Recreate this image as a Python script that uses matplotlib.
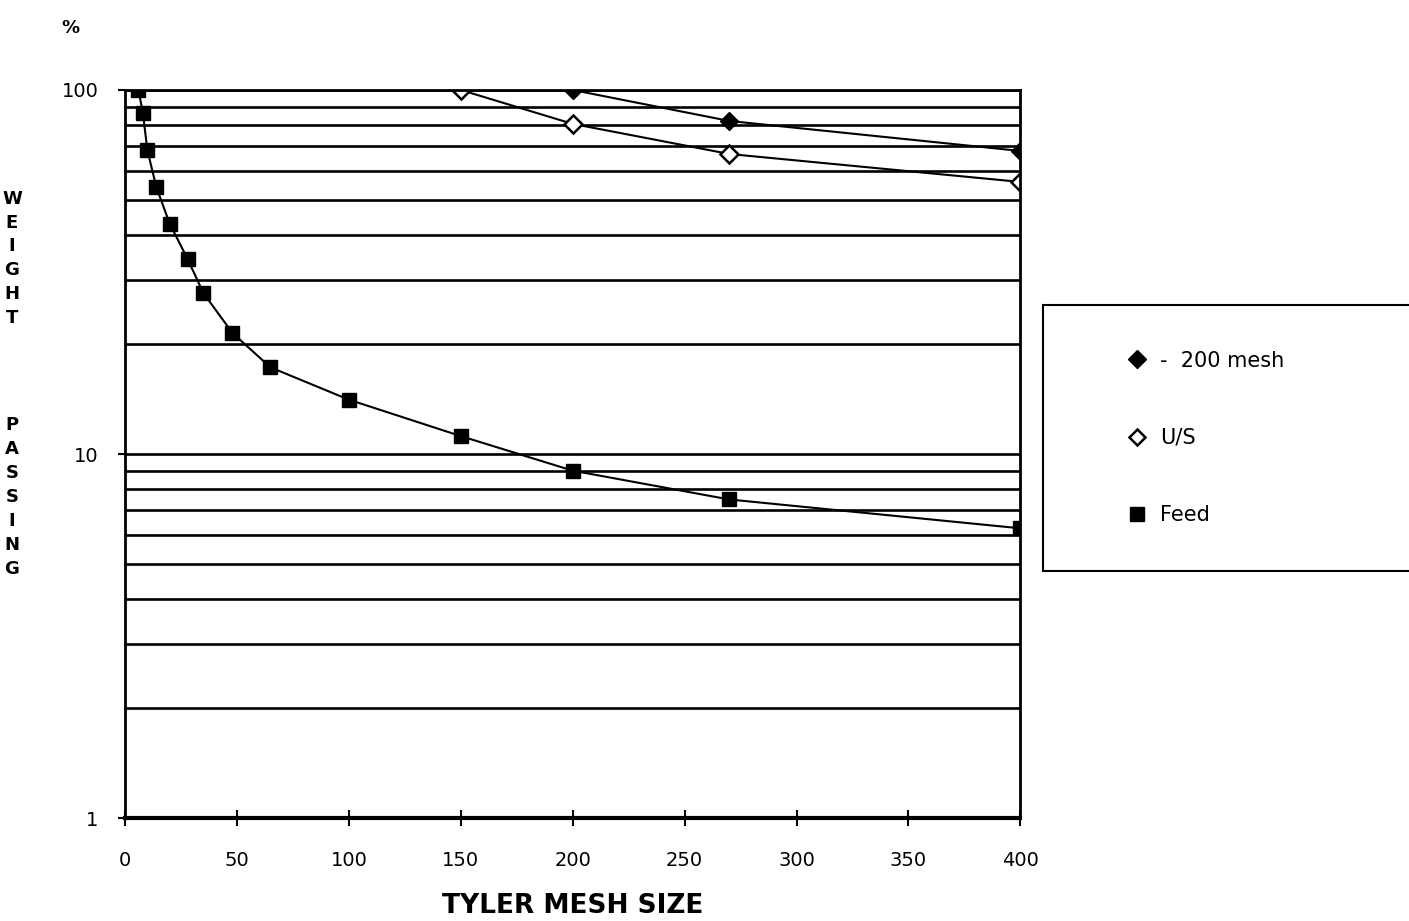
"""sieve analysis: cumulative weight passing vs tyler mesh size"""

import matplotlib
matplotlib.use("Agg")
import matplotlib.pyplot as plt
from matplotlib.lines import Line2D
from matplotlib.ticker import FixedLocator, NullFormatter

# Feed curve
feed_mesh = [6, 8, 10, 14, 20, 28, 35, 48, 65, 100, 150, 200, 270, 400]
feed_pass = [100, 86.5, 68.4, 54.1, 42.9, 34.3, 27.7, 21.5, 17.3, 14.1, 11.2, 9.0, 7.5, 6.25]

# -200 mesh product
minus200_mesh = [200, 270, 400]
minus200_pass = [100, 82.2, 68.0]

# U/S (undersize)
us_mesh = [150, 200, 270, 400]
us_pass = [100, 80.7, 66.7, 55.9]

x_ticks = [0, 50, 100, 150, 200, 250, 300, 350, 400]
y_major = [1, 10, 100]
y_minor = [2, 3, 4, 5, 6, 7, 8, 9, 20, 30, 40, 50, 60, 70, 80, 90]

fig = plt.figure(figsize=(14.09, 9.21), dpi=100)
ax = fig.add_axes([0.0887, 0.1118, 0.6355, 0.7905])

# horizontal rules of the log paper
ax.set_yscale('log')
ax.set_xlim(0, 400)
ax.set_ylim(1, 100)
ax.yaxis.set_major_locator(FixedLocator(y_major))
ax.yaxis.set_minor_locator(FixedLocator(y_minor))
ax.yaxis.set_minor_formatter(NullFormatter())
ax.set_yticklabels([str(v) for v in y_major])
ax.set_xticks(x_ticks)
ax.grid(True, which='both', axis='y', color='black', linewidth=1.9)
ax.set_axisbelow(True)

ax.plot(feed_mesh, feed_pass, color='black', linewidth=1.5,
        marker='s', markersize=10, markerfacecolor='black', markeredgecolor='black')
ax.plot(minus200_mesh, minus200_pass, color='black', linewidth=1.5,
        marker='D', markersize=9, markerfacecolor='black', markeredgecolor='black')
ax.plot(us_mesh, us_pass, color='black', linewidth=1.5,
        marker='D', markersize=9, markerfacecolor='white', markeredgecolor='black',
        markeredgewidth=1.8)

for side in ['left', 'right', 'bottom', 'top']:
    ax.spines[side].set_linewidth(2.0)
ax.spines['bottom'].set_linewidth(3.0)

ax.tick_params(axis='x', direction='inout', length=12, width=1.5, pad=18, labelsize=14)
ax.tick_params(axis='y', which='major', direction='out', length=5, width=1.5, pad=14, labelsize=14)
ax.tick_params(axis='y', which='minor', length=0)

ax.set_xlabel('TYLER MESH SIZE', fontsize=19, fontweight='bold', labelpad=16)

# stacked axis title on the left
fig.text(0.0085, 0.794, '\n'.join('WEIGHT'), ha='center', va='top',
         fontsize=13, fontweight='bold', linespacing=1.42)
fig.text(0.0085, 0.548, '\n'.join('PASSING'), ha='center', va='top',
         fontsize=13, fontweight='bold', linespacing=1.42)
fig.text(0.05, 0.97, '%', ha='center', va='center', fontsize=13, fontweight='bold')

# legend with markers only
handles = [
    Line2D([], [], linestyle='none', marker='D', markersize=9,
           markerfacecolor='black', markeredgecolor='black'),
    Line2D([], [], linestyle='none', marker='D', markersize=8,
           markerfacecolor='white', markeredgecolor='black', markeredgewidth=1.8),
    Line2D([], [], linestyle='none', marker='s', markersize=10,
           markerfacecolor='black', markeredgecolor='black'),
]
labels = ['-  200 mesh', 'U/S', 'Feed']
leg = fig.legend(handles, labels, loc='upper left',
                 bbox_to_anchor=(1043 / 1409, 1 - 573 / 921, 420 / 1409, 268 / 921),
                 mode='expand', fontsize=15, frameon=True, fancybox=False,
                 edgecolor='black', framealpha=1, borderpad=2.19, labelspacing=2.75,
                 borderaxespad=0, handlelength=4.65, handletextpad=-1.2, numpoints=1)
leg.get_frame().set_linewidth(1.5)

fig.savefig('out.png', dpi=100)
